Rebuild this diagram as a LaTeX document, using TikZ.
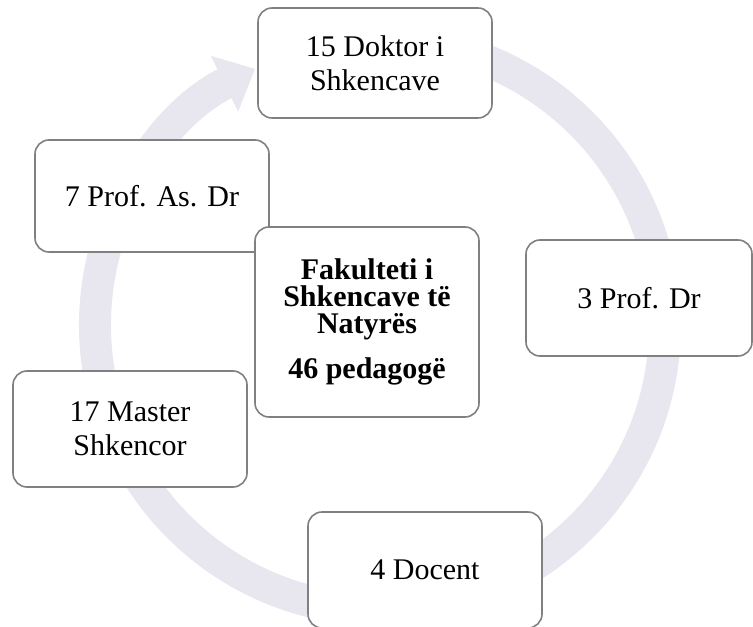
\documentclass[tikz,border=0pt]{standalone}
\usepackage{fontspec}
\setmainfont{Liberation Serif}
\usepackage{xcolor}
\usetikzlibrary{positioning,arrows.meta}

\definecolor{ringgray}{RGB}{232,230,239}
\definecolor{boxgray}{RGB}{128,128,128}

\begin{document}
\begin{tikzpicture}[x=0.5pt, y=0.5pt,
		stage/.style={draw=boxgray, line width=0.8pt, fill=white, rounded corners=7pt, align=center, font=\fontsize{15}{17}\selectfont},
		hub/.style={stage, font=\fontsize{15}{13.5}\selectfont\bfseries}]
		\useasboundingbox (0,0) rectangle (753,626);

		% Cycle ring
		\coordinate (mid) at (380,301);
		\draw[ringgray, line width=16pt, -{Triangle[width=30pt, length=17pt]}] (mid) ++(85:285) arc[start angle=85, end angle=-244, radius=285];

		% Nodes
		\node[stage, minimum width=117pt, minimum height=55pt] (doktor) at (375,563) {15 Doktor i\\Shkencave};
		\node[stage, minimum width=117pt, minimum height=56pt] (profas) at (152,430) {7 Prof. As. Dr};
		\node[stage, minimum width=113pt, minimum height=58pt] (profdr) at (639,328) {3 Prof. Dr};
		\node[stage, minimum width=117pt, minimum height=58pt] (master) at (130,197) {17 Master\\Shkencor};
		\node[stage, minimum width=117pt, minimum height=58pt] (docent) at (425,56) {4 Docent};
		\node[hub, minimum width=112pt, minimum height=95pt] (fakulteti) at (367,304) {Fakulteti i\\Shkencave të\\Natyrës\\[8pt]46 pedagogë};
	\end{tikzpicture}
\end{document}
